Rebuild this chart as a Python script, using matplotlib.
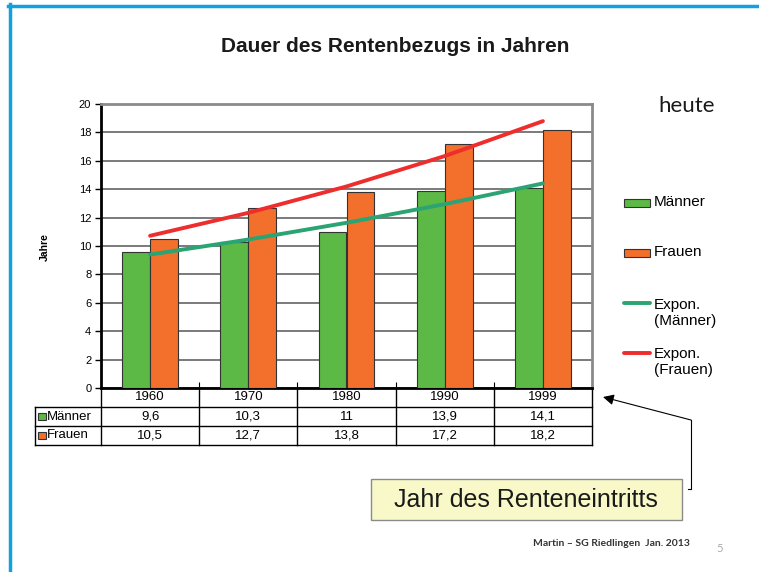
import numpy as np
import matplotlib
matplotlib.use("Agg")
import matplotlib.pyplot as plt
from matplotlib.patches import Rectangle
from matplotlib.lines import Line2D

plt.rcParams['font.family'] = ['Liberation Sans', 'DejaVu Sans']

# Daten
jahre = ["1960", "1970", "1980", "1990", "1999"]
maenner = [9.6, 10.3, 11, 13.9, 14.1]
frauen = [10.5, 12.7, 13.8, 17.2, 18.2]
maenner_txt = ["9,6", "10,3", "11", "13,9", "14,1"]
frauen_txt = ["10,5", "12,7", "13,8", "17,2", "18,2"]

gruen = '#5cb946'
orange = '#f2702c'
trend_gruen = '#2aa472'
trend_rot = '#ee2d2d'

W, H = 759, 572


def fx(px):
    return px / W


def fy(py):
    return 1 - py / H


fig = plt.figure(figsize=(W / 100, H / 100), dpi=100)

# Diagramm
ax = fig.add_axes([fx(101), fy(388), fx(592) - fx(101), fy(104) - fy(388)])
x = np.arange(len(jahre))
w = 0.285
ax.bar(x - w / 2, maenner, w, color=gruen, edgecolor='#333333', lw=0.8, zorder=3)
ax.bar(x + w / 2, frauen, w, color=orange, edgecolor='#333333', lw=0.8, zorder=3)

# exponentielle Trendlinien
xs = np.arange(1, len(jahre) + 1)
for werte, farbe in [(maenner, trend_gruen), (frauen, trend_rot)]:
    b, a = np.polyfit(xs, np.log(werte), 1)
    ax.plot(x, np.exp(a + b * xs), color=farbe, lw=2.8, zorder=4,
            solid_capstyle='round')

ax.set_xlim(-0.5, 4.5)
ax.set_ylim(0, 20)
ax.set_yticks(np.arange(0, 21, 2))
ax.tick_params(axis='y', labelsize=8, length=4, width=1, pad=3)
ax.set_xticks([0.5, 1.5, 2.5, 3.5])
ax.set_xticklabels([])
ax.tick_params(axis='x', direction='in', length=4)
ax.yaxis.grid(True, color='#7a7a7a', lw=1.4, zorder=0)
ax.set_axisbelow(True)
ax.spines['left'].set_linewidth(2)
ax.spines['bottom'].set_linewidth(2)
ax.spines['top'].set_color('#8a8a8a')
ax.spines['top'].set_linewidth(2)
ax.spines['right'].set_color('#8a8a8a')
ax.spines['right'].set_linewidth(2)

fig.text(fx(45), fy(247), "Jahre", rotation=90, fontsize=7.5, weight='bold',
         ha='center', va='center')

# Datentabelle
tax = fig.add_axes([fx(101), fy(445), fx(592) - fx(101), fy(388) - fy(445)])
tax.set_xlim(-0.5, 4.5)
tax.set_ylim(3, 0)
tax.axis('off')
links = -0.5 - 66 / 98.2
for xv in np.arange(-0.5, 5, 1):
    tax.plot([xv, xv], [0, 3], color='black', lw=1, clip_on=False)
tax.plot([links, links], [1, 3], color='black', lw=1, clip_on=False)
for yv in [1, 2, 3]:
    tax.plot([links, 4.5], [yv, yv], color='black', lw=1, clip_on=False)

for i in range(len(jahre)):
    tax.text(i, 0.5, jahre[i], ha='center', va='center', fontsize=9.5)
    tax.text(i, 1.5, maenner_txt[i], ha='center', va='center', fontsize=9.5)
    tax.text(i, 2.5, frauen_txt[i], ha='center', va='center', fontsize=9.5)

for row, name, farbe in [(1.5, "Männer", gruen), (2.5, "Frauen", orange)]:
    tax.add_patch(Rectangle((links + 0.03, row - 0.21), 0.08, 0.42,
                            facecolor=farbe, edgecolor='#333333', lw=0.8,
                            clip_on=False))
    tax.text(links + 0.12, row, name, ha='left', va='center', fontsize=9.5)

# Legende
for yy, name, farbe in [(202.5, "Männer", gruen), (252.5, "Frauen", orange)]:
    fig.add_artist(Rectangle((fx(624), fy(yy + 4)), 26 / W, 8 / H,
                             facecolor=farbe, edgecolor='#333333', lw=0.8,
                             transform=fig.transFigure))
    fig.text(fx(654), fy(yy), name, fontsize=11, va='center', ha='left')

for yy, ty, name, farbe in [(303, 313, "Expon.\n(Männer)", trend_gruen),
                            (353, 362, "Expon.\n(Frauen)", trend_rot)]:
    fig.add_artist(Line2D([fx(624), fx(650)], [fy(yy), fy(yy)], color=farbe,
                          lw=2.8, solid_capstyle='round',
                          transform=fig.transFigure))
    fig.text(fx(654), fy(ty), name, fontsize=11, va='center', ha='left',
             linespacing=1.1)

# Titel und Beschriftungen
fig.text(fx(395), fy(47), "Dauer des Rentenbezugs in Jahren", fontsize=15,
         weight='bold', ha='center', va='center', color='#1a1a1a')
fig.text(fx(687), fy(106), "heute", fontsize=16, ha='center', va='center',
         family='Lato', color='#1a1a1a')

# Kasten mit Pfeil
fig.add_artist(Rectangle((fx(371), fy(520)), 311 / W, 41 / H,
                         facecolor='#f8f8c8', edgecolor='#8a8a8a', lw=1,
                         transform=fig.transFigure))
fig.text(fx(526), fy(500), "Jahr des Renteneintritts", fontsize=18,
         ha='center', va='center', color='#1a1a1a')
fig.add_artist(Line2D([fx(688), fx(691), fx(691)], [fy(489), fy(489), fy(420)],
                      color='black', lw=0.8, transform=fig.transFigure))
ax.annotate('', xy=(fx(603), fy(397)), xytext=(fx(691), fy(420)),
            xycoords='figure fraction', textcoords='figure fraction',
            arrowprops=dict(arrowstyle='-|>', color='black', lw=0.8,
                            mutation_scale=16, shrinkA=0, shrinkB=0))

# Fusszeile
fig.text(fx(533), fy(543), "Martin – SG Riedlingen  Jan. 2013", fontsize=7.5,
         family='Lato', weight='bold', ha='left', va='center', color='#333333')
fig.text(fx(720), fy(548), "5", fontsize=8, family='Lato', ha='center',
         va='center', color='#aaaaaa')

# blauer Rahmen
fig.add_artist(Line2D([fx(9.5), fx(9.5)], [fy(4), 0], color='#14a0dc', lw=2.5,
                      transform=fig.transFigure))
fig.add_artist(Line2D([fx(8), 1], [fy(5.5), fy(5.5)], color='#14a0dc', lw=2.5,
                      transform=fig.transFigure))

fig.savefig("out.png", dpi=100)
